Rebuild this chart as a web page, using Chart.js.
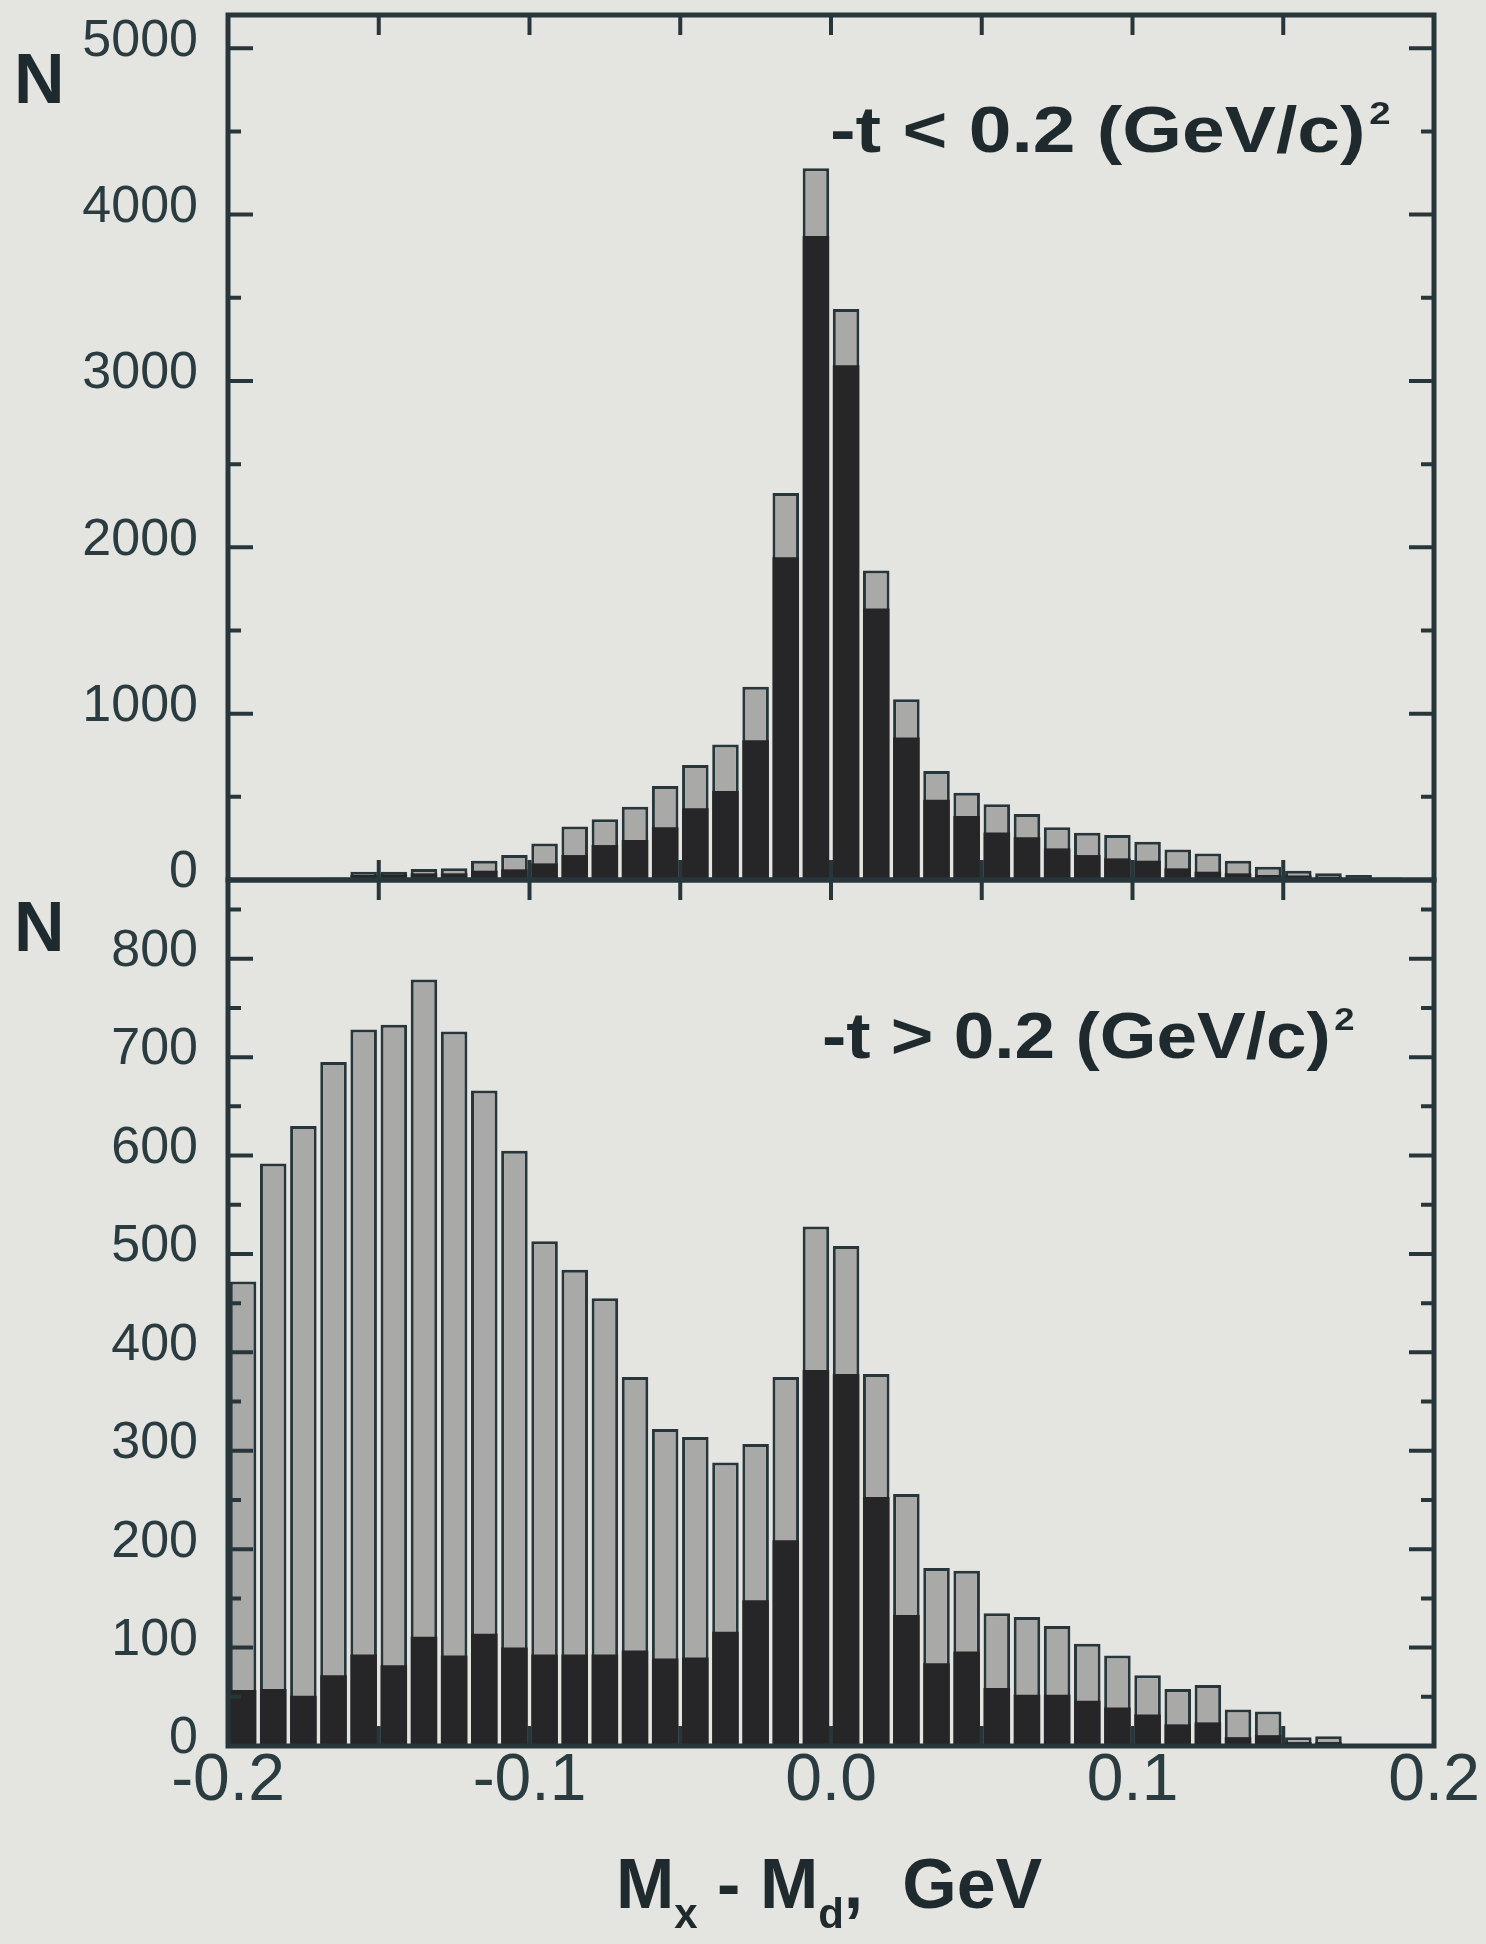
<!DOCTYPE html>
<html>
<head>
<meta charset="UTF-8">
<script src="https://cdn.jsdelivr.net/npm/chart.js@4.4.1/dist/chart.umd.min.js"></script>
<title>Mx - Md spectra</title>
<style>
body{margin:0;background:#e4e4e1;width:1486px;height:1944px;position:relative;overflow:hidden;font-family:"Liberation Sans",Arial,sans-serif;color:#1e2a2d}
canvas{position:absolute;left:0}
#cTop{top:0}
#cBot{top:860px}
.lbl{position:absolute;font-weight:bold;line-height:1;white-space:nowrap}
.nlab{font-size:70px;left:14px}
.note{font-size:64px;transform:scaleX(1.2);transform-origin:0 0}
.note.narrow{transform:scaleX(1.14)}
.note span{font-size:32px;vertical-align:28px;margin-left:3px}
.ttl{font-size:70px;left:616px;top:1849px}
.ttl sub{font-size:42px;vertical-align:-20px}
</style>
</head>
<body>
<canvas id="cTop" width="1486" height="910"></canvas>
<canvas id="cBot" width="1486" height="1084"></canvas>
<div class="lbl nlab" style="top:44px">N</div>
<div class="lbl nlab" style="top:892px">N</div>
<div class="lbl note" style="left:830px;top:97px">-t &lt; 0.2 (GeV/c)<span>2</span></div>
<div class="lbl note narrow" style="left:822px;top:1003px">-t &gt; 0.2 (GeV/c)<span>2</span></div>
<div class="lbl ttl">M<sub>x</sub> - M<sub>d</sub>,&nbsp; GeV</div>
<script>
// bin centres, GeV (bins are 0.01 wide from -0.2 to 0.2)
var binCenters = [-0.195,-0.185,-0.175,-0.165,-0.155,-0.145,-0.135,-0.125,-0.115,-0.105,
                  -0.095,-0.085,-0.075,-0.065,-0.055,-0.045,-0.035,-0.025,-0.015,-0.005,
                   0.005, 0.015, 0.025, 0.035, 0.045, 0.055, 0.065, 0.075, 0.085, 0.095,
                   0.105, 0.115, 0.125, 0.135, 0.145, 0.155, 0.165, 0.175, 0.185, 0.195];

// -t < 0.2 : all events (grey) and selected events (black)
var lowAll = [8,10,12,15,50,50,66,70,116,150,
              220,321,365,441,565,692,815,1162,2326,4278,
              3432,1860,1087,655,525,455,397,317,284,271,
              230,184,160,116,80,56,40,30,15,10];
var lowSel = [5,6,8,10,30,34,40,40,56,64,
              100,150,210,241,317,431,535,840,1940,3871,
              3094,1632,857,483,384,285,257,190,150,130,
              116,70,50,40,30,27,20,15,8,5];

// -t > 0.2
var highAll = [472,592,630,695,728,733,779,726,666,605,
               513,484,455,375,322,314,288,307,375,528,
               508,378,256,181,178,135,131,122,104,92,
               72,58,62,37,35,9,10,2,1,0];
var highSel = [57,58,51,72,93,82,111,92,114,100,
               93,93,93,97,89,90,116,148,209,382,
               378,253,133,84,96,59,52,52,46,39,
               32,22,24,9,11,4,4,1,0,0];

var lowTicks = [0,1000,2000,3000,4000,5000];
var lowMinor = [500,1500,2500,3500,4500];
var highTicks = [0,100,200,300,400,500,600,700,800];
var highMinor = [50,150,250,350,450,550,650,750,850];
var xLabels = [-0.2,-0.1,0,0.1,0.2];
var xMarks = [-0.15,-0.1,-0.05,0,0.05,0.1,0.15];

var GRAY = '#a9a9a8', BLACK = '#262628', EDGE = '#26363a', TEXT = '#2b3c41';

function pts(vals){
  return vals.map(function(v,i){ return {x: binCenters[i], y: v}; });
}

// closed frame with inward tick marks on all four sides
function framePlugin(major, minor){
  return {
    id: 'frame',
    afterDatasetsDraw: function(chart){
      var a = chart.chartArea, c = chart.ctx;
      var xs = chart.scales.x, ys = chart.scales.y;
      c.save();
      c.strokeStyle = EDGE;
      c.lineWidth = 4;
      c.beginPath();
      major.forEach(function(v){
        var p = ys.getPixelForValue(v);
        c.moveTo(a.left,p); c.lineTo(a.left+25,p);
        c.moveTo(a.right,p); c.lineTo(a.right-25,p);
      });
      minor.forEach(function(v){
        var p = ys.getPixelForValue(v);
        c.moveTo(a.left,p); c.lineTo(a.left+13,p);
        c.moveTo(a.right,p); c.lineTo(a.right-13,p);
      });
      xMarks.forEach(function(v){
        var p = xs.getPixelForValue(v);
        c.moveTo(p,a.top); c.lineTo(p,a.top+20);
        c.moveTo(p,a.bottom); c.lineTo(p,a.bottom-20);
      });
      c.stroke();
      c.lineWidth = 5;
      c.strokeRect(a.left, a.top, a.right-a.left, a.bottom-a.top);
      c.restore();
    }
  };
}

function yAxis(max, ticks){
  return {
    min: 0, max: max,
    afterBuildTicks: function(s){ s.ticks = ticks.map(function(v){ return {value: v}; }); },
    afterFit: function(s){ s.width = 228; s.paddingTop = 0; s.paddingBottom = 0; },
    grid: {display: false, drawTicks: false},
    border: {display: false},
    ticks: {padding: 30, labelOffset: -7, color: TEXT,
            font: {family: '"Liberation Sans", Arial, sans-serif', size: 52},
            callback: function(v){ return String(v); }}
  };
}

function makeChart(id, all, sel, ymax, ticks, minor, showX, padding){
  return new Chart(document.getElementById(id), {
    type: 'bar',
    data: {
      datasets: [
        {data: pts(sel), backgroundColor: BLACK, borderWidth: 0, order: 0},
        {data: pts(all), backgroundColor: GRAY, borderColor: EDGE, borderWidth: 3, order: 1}
      ]
    },
    options: {
      responsive: false,
      animation: false,
      devicePixelRatio: 1,
      layout: {padding: padding},
      datasets: {bar: {grouped: false, barPercentage: 0.88, categoryPercentage: 1}},
      plugins: {legend: {display: false}, tooltip: {enabled: false}},
      scales: {
        x: {
          type: 'linear', min: -0.2, max: 0.2, offset: false, display: showX,
          afterBuildTicks: function(s){ s.ticks = xLabels.map(function(v){ return {value: v}; }); },
          afterFit: function(s){
            if (showX) s.height = 100;
            s.paddingLeft = 0; s.paddingRight = 0;
          },
          grid: {display: false, drawTicks: false},
          border: {display: false},
          ticks: {
            padding: -4, color: TEXT, maxRotation: 0, autoSkip: false,
            font: {family: '"Liberation Sans Narrow", "Liberation Sans", sans-serif', size: 66},
            callback: function(v){ return Number(v).toFixed(1); }
          }
        },
        y: yAxis(ymax, ticks)
      }
    },
    plugins: [framePlugin(ticks, minor)]
  });
}

makeChart('cTop', lowAll, lowSel, 5200, lowTicks, lowMinor, false,
          {left: 0, right: 52, top: 15, bottom: 30});
makeChart('cBot', highAll, highSel, 880, highTicks, highMinor, true,
          {left: 0, right: 52, top: 20, bottom: 98});
</script>
</body>
</html>
